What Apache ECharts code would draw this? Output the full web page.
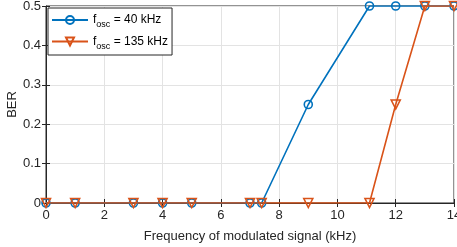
<!DOCTYPE html>
<html>
<head>
<meta charset="utf-8">
<script src="https://cdn.jsdelivr.net/npm/echarts@6/dist/echarts.min.js"></script>
<style>
  html, body { margin: 0; padding: 0; background: #fff; }
  #chart { width: 457px; height: 247px; }
</style>
</head>
<body>
<div id="chart"></div>
<script>
  // data
  const freqKHz = [0, 1, 3, 4, 5, 7, 7.4, 9, 11.1, 12, 13, 14]
  const ber40 = [0, 0, 0, 0, 0, 0, 0, 0.25, 0.5, 0.5, 0.5, 0.5]
  const ber135 = [0, 0, 0, 0, 0, 0, 0, 0, 0, 0.25, 0.5, 0.5]
  const seriesNames = ['40', '135']

  const axisColor = '#262626'
  const font = 'Liberation Sans, Arial, sans-serif'

  function pairs(xs, ys) {
    return xs.map((x, i) => [x, ys[i]])
  }

  const chart = echarts.init(document.getElementById('chart'))
  chart.setOption({
    animation: false,
    textStyle: { fontFamily: font },
    grid: {
      left: 46, right: 3, top: 6, bottom: 44,
      containLabel: false,
      outerBoundsMode: 'none',
      show: true, borderColor: axisColor, borderWidth: 1
    },
    legend: {
      left: 48, top: 8,
      orient: 'vertical',
      backgroundColor: '#fff',
      borderColor: axisColor,
      borderWidth: 1,
      padding: [6, 4, 4, 3],
      itemGap: 6,
      itemWidth: 36,
      itemHeight: 10,
      formatter: function (name) {
        return '{a|f}{sub|osc}{a| = ' + name + ' kHz}'
      },
      textStyle: {
        rich: {
          a: { fontSize: 12, color: '#000', fontFamily: font },
          sub: { fontSize: 9, color: '#000', fontFamily: font, padding: [10, 0, 0, 0] }
        }
      }
    },
    xAxis: [{
      type: 'value',
      min: 0, max: 14, interval: 2,
      name: 'Frequency of modulated signal (kHz)',
      nameLocation: 'middle',
      nameGap: 27,
      nameMoveOverlap: false,
      nameTextStyle: { color: axisColor, fontSize: 13 },
      axisLine: { lineStyle: { color: axisColor } },
      axisTick: { inside: true, length: 4, lineStyle: { color: axisColor } },
      axisLabel: { color: axisColor, fontSize: 13, margin: 6 },
      splitLine: { lineStyle: { color: '#e3e3e3' } }
    }, {
      type: 'value', position: 'top',
      min: 0, max: 14, interval: 2,
      axisLine: { show: false },
      axisTick: { inside: true, length: 4, lineStyle: { color: axisColor } },
      axisLabel: { show: false },
      splitLine: { show: false }
    }],
    yAxis: [{
      type: 'value',
      min: 0, max: 0.5, interval: 0.1,
      name: 'BER',
      nameLocation: 'middle',
      nameGap: 27,
      nameMoveOverlap: false,
      nameTextStyle: { color: axisColor, fontSize: 13 },
      axisLine: { show: true, lineStyle: { color: axisColor } },
      axisTick: { show: true, inside: true, length: 4, lineStyle: { color: axisColor } },
      axisLabel: { color: axisColor, fontSize: 13, margin: 5 },
      splitLine: { lineStyle: { color: '#e3e3e3' } }
    }, {
      type: 'value', position: 'right',
      min: 0, max: 0.5, interval: 0.1,
      axisLine: { show: false },
      axisTick: { show: true, inside: true, length: 4, lineStyle: { color: axisColor } },
      axisLabel: { show: false },
      splitLine: { show: false }
    }],
    series: [
      {
        name: seriesNames[0],
        type: 'line',
        data: pairs(freqKHz, ber40),
        symbol: 'circle',
        symbolSize: 8,
        lineStyle: { color: '#0072BD', width: 1.6 },
        itemStyle: { color: 'rgba(255,255,255,0)', borderColor: '#0072BD', borderWidth: 1.6 },
        z: 2
      },
      {
        name: seriesNames[1],
        type: 'line',
        data: pairs(freqKHz, ber135),
        symbol: 'triangle',
        symbolRotate: 180,
        symbolSize: 9,
        lineStyle: { color: '#D95319', width: 1.6 },
        itemStyle: { color: 'rgba(255,255,255,0)', borderColor: '#D95319', borderWidth: 1.6 },
        z: 3
      }
    ]
  })
</script>
</body>
</html>
